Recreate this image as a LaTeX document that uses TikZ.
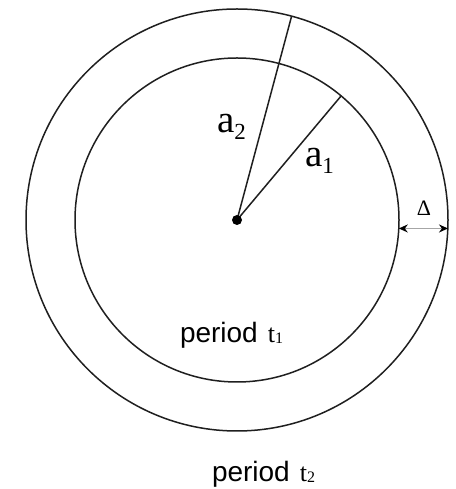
\documentclass[tikz,border=0pt]{standalone}
\usepackage{fontspec}
\setmainfont{Liberation Serif}
\newfontfamily\sansf{Liberation Sans}
\usetikzlibrary{arrows.meta,calc}
\tikzset{
  ring/.style={circle, draw=black!88, line width=1.5pt, inner sep=0pt, outer sep=0pt},
  radius line/.style={draw=black!88, line width=1.5pt},
  dim/.style={draw=black!35, line width=1.6pt, {Stealth[color=black,length=9pt,width=8pt]}-{Stealth[color=black,length=9pt,width=8pt]}},
  lab/.style={anchor=base west, inner sep=0pt, outer sep=0pt},
}
\newcommand{\alab}[1]{{\fontsize{39}{39}\selectfont a}\raisebox{-7pt}{\fontsize{23}{23}\selectfont #1}}
\newcommand{\plab}[1]{{\sansf\fontsize{28}{28}\selectfont period}\hspace{10pt}{\fontsize{26}{26}\selectfont t}\raisebox{-1pt}{\fontsize{16}{16}\selectfont #1}}
\begin{document}
\begin{tikzpicture}[x=1pt,y=1pt]
\useasboundingbox (0,0) rectangle (455,489);
\coordinate (O) at (237,269);
\node[ring, minimum size=422pt] (outer) at (O) {};
\node[ring, minimum size=324pt] (inner) at (O) {};
\draw[radius line] (O) -- (outer.75.6);
\draw[radius line] (O) -- (inner.50.3);
\fill[black] (O) circle (5pt);
\node[lab] (la2) at (217,356) {\alab{2}};
\node[lab] (la1) at (305,322) {\alab{1}};
\draw[dim] (inner.-3.2) -- (inner.-3.2 -| outer.east);
\node (delta) at (424,281) {\fontsize{22}{22}\selectfont Δ};
\node[lab] (p1) at (180,146) {\plab{1}};
\node[lab] (p2) at (212,7) {\plab{2}};
\end{tikzpicture}
\end{document}
